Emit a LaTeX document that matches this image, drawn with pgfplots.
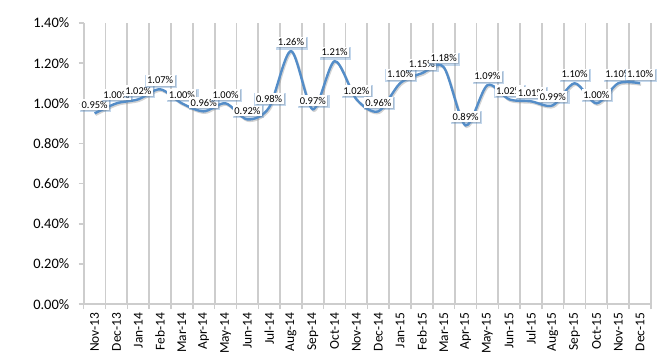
\documentclass[border=0pt]{standalone}
\usepackage{pgfplots}
\pgfplotsset{compat=1.18}
\usepackage{pgfplotstable}
\usepackage{fontspec}
\setmainfont{Carlito}
\usetikzlibrary{shadows}
\definecolor{linec}{RGB}{84,141,200}
\definecolor{gridc}{RGB}{205,205,205}
\pgfplotstableread{
x y
0 0.95
1 1.00
2 1.02
3 1.07
4 1.00
5 0.96
6 1.00
7 0.92
8 0.98
9 1.26
10 0.97
11 1.21
12 1.02
13 0.96
14 1.10
15 1.15
16 1.18
17 0.89
18 1.09
19 1.02
20 1.01
21 0.99
22 1.10
23 1.00
24 1.10
25 1.10
}\datatable
\begin{document}
\begin{tikzpicture}
\begin{axis}[
  width=567bp, height=281bp, scale only axis,
  xmin=-0.5, xmax=25.5, ymin=0, ymax=1.4,
  axis x line*=bottom, axis y line*=left,
  axis line style={gridc, line width=1.5bp},
  xtick={0,...,25},
  xticklabels={Nov-13,Dec-13,Jan-14,Feb-14,Mar-14,Apr-14,May-14,Jun-14,Jul-14,Aug-14,Sep-14,Oct-14,Nov-14,Dec-14,Jan-15,Feb-15,Mar-15,Apr-15,May-15,Jun-15,Jul-15,Aug-15,Sep-15,Oct-15,Nov-15,Dec-15},
  x tick label style={rotate=90, anchor=east, font=\fontsize{13.5}{14}\selectfont},
  major x tick style={draw=none},
  minor xtick={-0.5,0.5,...,25.5},
  xminorgrids,
  minor x grid style={gridc, line width=1.8bp},
  minor x tick style={gridc, line width=1.5bp},
  tick align=outside,
  major tick length=5bp, minor tick length=5bp,
  ytick={0,0.2,0.4,0.6,0.8,1.0,1.2,1.4},
  y tick style={gridc, line width=1.5bp},
  yticklabel={\pgfmathprintnumber[fixed,fixed zerofill,precision=2]{\tick}\%},
  y tick label style={font=\fontsize{14.5}{17}\selectfont, xshift=-6bp},
  /pgf/number format/assume math mode=true,
  clip=false,
]
\addplot[gray, opacity=0.35, line width=2.2bp, smooth, xshift=1bp, yshift=-1.5bp] table[x=x,y=y] {\datatable};
\addplot[linec, line width=2.4bp, smooth,
  nodes near coords={\pgfmathprintnumber[fixed,fixed zerofill,precision=2]{\pgfplotspointmeta}\%},
  nodes near coords style={font=\fontsize{10.5}{11}\selectfont, fill=white, inner sep=1.5pt, anchor=south, yshift=2.5bp, text=black,
    drop shadow={opacity=0.35, shadow xshift=1bp, shadow yshift=-1bp}},
] table[x=x,y=y] {\datatable};
\coordinate (bl) at (rel axis cs:0,0);
\coordinate (tr) at (rel axis cs:1,1);
\end{axis}
\pgfresetboundingbox
\path ([xshift=-83.7bp,yshift=-58bp]bl) rectangle ([xshift=10bp,yshift=23bp]tr);
\end{tikzpicture}
\end{document}
